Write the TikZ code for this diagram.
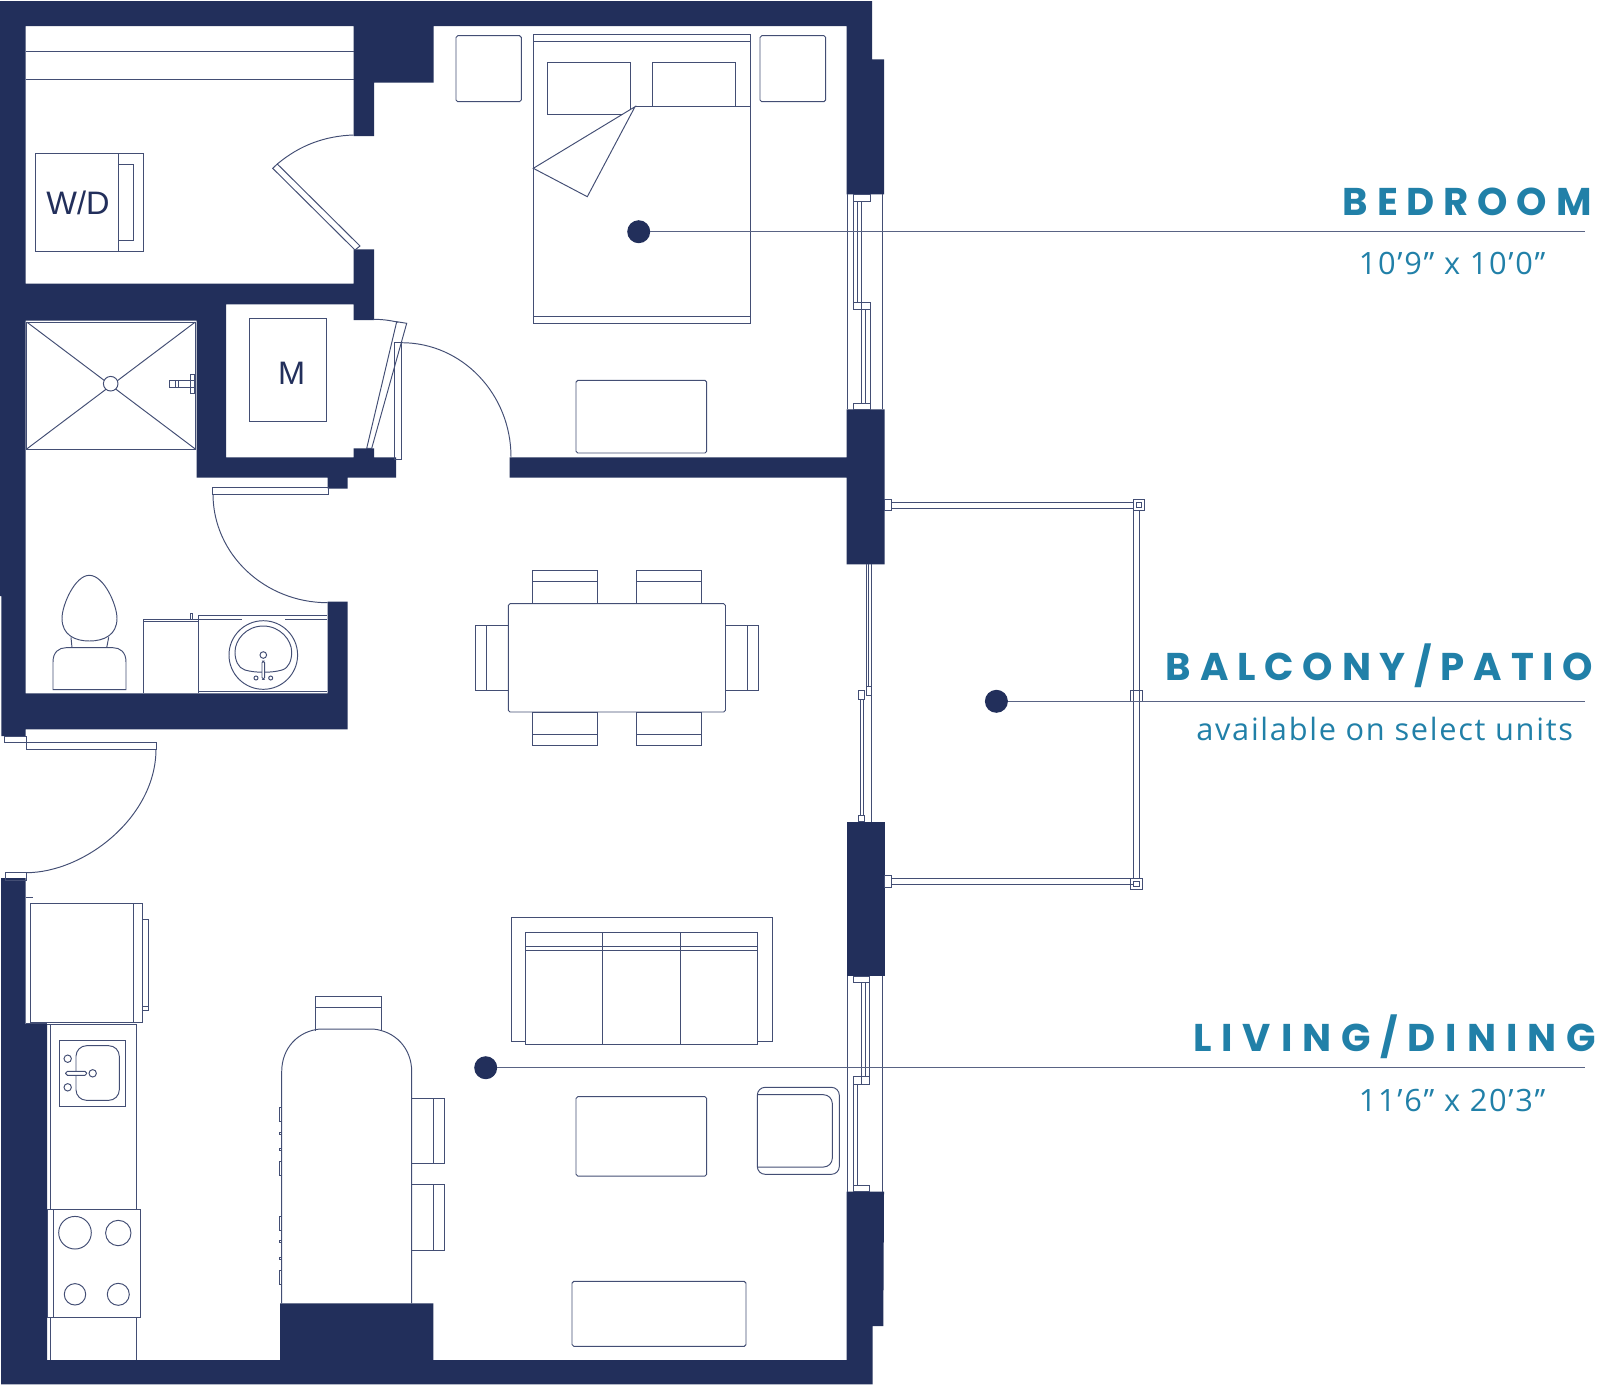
\documentclass[tikz,border=0pt]{standalone}
\usepackage{fontspec}
\usepackage{xcolor}
\setmainfont{Liberation Sans}
\newfontfamily\roomnamefont[LetterSpace=22.7]{Poppins}
\newfontfamily\widenamefont[LetterSpace=25.5]{Poppins}
\newfontfamily\roomsizefont[LetterSpace=5.5]{Open Sans}
\definecolor{navy}{HTML}{222F5B}
\definecolor{teal}{HTML}{2180A8}
\tikzset{
    wall/.style={fill=navy, draw=none},
    fine/.style={draw=navy!85, line width=0.55pt},
    soft/.style={fine, rounded corners=1pt},
    knob/.style={fine, fill=white},
    dot/.style={circle, fill=navy, minimum size=4.6mm, inner sep=0pt, outer sep=0pt},
    leader/.style={draw=navy!75, line width=0.7pt},
    roomname/.style={anchor=base west, inner sep=0pt, text=teal, font=\roomnamefont\bfseries\fontsize{22}{24}\selectfont},
    widename/.style={roomname, font=\widenamefont\bfseries\fontsize{22}{24}\selectfont},
    roomsize/.style={anchor=base west, inner sep=0pt, text=teal, font=\roomsizefont\fontsize{17.5}{20}\selectfont},
    applabel/.style={text=navy, inner sep=0pt, font=\fontsize{18.5}{20}\selectfont}
}
\begin{document}
\begin{tikzpicture}[x=0.2mm, y=-0.2mm]
    \useasboundingbox (0,0) rectangle (1600,1387);
    % Walls
    \fill[wall] (0,1) -- (872,1) -- (872,59.3) -- (884,59.3) -- (884,194.3) -- (846.5,194.3) -- (846.5,26) -- (433.5,26) -- (433.5,82.7) -- (374,82.7) -- (374,136) -- (353.5,136) -- (353.5,26) -- (25.5,26) -- (25.5,283.7) -- (353.5,283.7) -- (353.5,249.3) -- (374,249.3) -- (374,320) -- (353.5,320) -- (353.5,304.3) -- (226,304.3) -- (226,457.3) -- (353.5,457.3) -- (353.5,448.3) -- (374,448.3) -- (374,457.3) -- (396,457.3) -- (396,477.7) -- (347.7,477.7) -- (347.7,488.7) -- (327.7,488.7) -- (327.7,477.7) -- (196.7,477.7) -- (196.7,320.7) -- (25.5,320.7) -- (25.5,693.3) -- (327.7,693.3) -- (327.7,601.7) -- (347.7,601.7) -- (347.7,729.3) -- (25.5,729.3) -- (25.5,736) -- (1.3,736) -- (1.3,596) -- (0,596) -- cycle;
    \fill[wall] (1,878) -- (25.5,878) -- (25.5,1024) -- (47,1024) -- (47,1360) -- (280,1360) -- (280,1303.3) -- (433.3,1303.3) -- (433.3,1360) -- (846.5,1360) -- (846.5,1191.7) -- (884,1191.7) -- (883.3,1326) -- (872.7,1326) -- (872.7,1384.3) -- (1,1384.3) -- cycle;
    \fill[wall] (846.5,409.3) -- (884.5,409.3) -- (884.5,564.3) -- (846.5,564.3) -- (846.5,477.7) -- (509.7,477.7) -- (509.7,457.3) -- (846.5,457.3) -- cycle;
    \fill[wall] (846.5,821.7) rectangle (884.5,976);

    % Closet
    \draw[fine] (25.5,51.7) -- (353.5,51.7);
    \draw[fine] (25.5,79) -- (353.5,79);
    \draw[fine] (35,153.7) rectangle (143.7,251.3);
    \draw[fine] (118.3,153.7) -- (118.3,251.3);
    \draw[fine] (118.3,164.7) rectangle (133.3,240.7);
    \node[applabel] (washer) at (78,203) {W/D};
    \draw[fine] (272.7,168.3) -- (277.3,164) -- (360,246) -- (355,250) -- cycle;
    \draw[fine] (277.3,164) .. controls (300,145) and (325,136) .. (353.5,135);

    % Shower
    \draw[fine] (26.7,322) rectangle (195.3,449);
    \draw[fine] (26.7,322) -- (195.3,449);
    \draw[fine] (195.3,322) -- (26.7,449);
    \draw[knob] (110.7,383.7) circle (7.3);
    \draw[fine] (169.3,380.3) rectangle (194.3,387.3);
    \draw[fine] (175.3,380.3) -- (175.3,387.3);
    \draw[fine] (178.7,380.3) -- (178.7,387.3);
    \draw[fine] (190.7,374.3) rectangle (194.3,393.3);

    % Mechanical closet
    \draw[fine] (249.3,318.3) rectangle (326.7,421.7);
    \node[applabel] (mech) at (291.7,373) {M};
    \draw[fine] (396.7,321.7) -- (406.7,323.3) -- (371.7,448.3) -- (366.7,448.3) -- cycle;
    \draw[fine] (373.3,319.3) .. controls (382,319.3) and (390,320.3) .. (398.3,322.3);

    % Bedroom door
    \draw[fine] (394.7,342.7) rectangle (401.7,459);
    \draw[fine] (401.7,342.7) .. controls (462,342.7) and (511,393.9) .. (511,457);

    % Bath door
    \draw[fine] (212,487.3) rectangle (328.3,494);
    \draw[fine] (213,494) .. controls (213,554) and (264.4,602.7) .. (327.7,602.7);

    % Entry door
    \draw[fine] (4.7,736) rectangle (26,742.7);
    \draw[fine] (26,742.3) rectangle (156.7,749);
    \draw[fine] (5,872.3) rectangle (26,880);
    \draw[fine] (156,749) .. controls (156,817.3) and (84.2,872.7) .. (26,872.7);

    % Toilet
    \draw[fine] (53,689.7) -- (53,662) .. controls (53,652) and (59,647.7) .. (66,647.7) -- (113,647.7) .. controls (120,647.7) and (126,652) .. (126,662) -- (126,689.7) -- cycle;
    \draw[fine] (71,637.3) -- (72,647.7);
    \draw[fine] (108.7,637.3) -- (106.7,647.7);
    \draw[fine] (89.3,575.3) .. controls (75,575.3) and (62,605) .. (62,618.3) .. controls (62,635) and (75,641) .. (89.3,641) .. controls (104,641) and (117,635) .. (117,618.3) .. controls (117,605) and (104,575.3) .. (89.3,575.3);

    % Vanity
    \draw[fine] (143.7,693.3) -- (143.7,619.3) -- (198,619.3);
    \draw[fine] (143.7,621.3) -- (198,621.3);
    \draw[fine] (190,613.3) rectangle (192.3,619.3);
    \draw[fine] (198,693.3) -- (198,615) -- (327.3,615);
    \draw[fine] (198,619) -- (241.7,619);
    \draw[fine] (285,619) -- (327.3,619);
    \draw[fine] (198,691.7) -- (327.3,691.7);
    \draw[fine] (263.3,655) circle (34.3);
    \draw[fine] (263.3,626) .. controls (246,626) and (235,640) .. (235,652) .. controls (235,660) and (238,668) .. (245,670) .. controls (255,673) and (272,673) .. (282,670) .. controls (289,668) and (291.7,660) .. (291.7,652) .. controls (291.7,640) and (280,626) .. (263.3,626);
    \draw[fine] (263.3,655) circle (3.3);
    \draw[knob, rounded corners=1pt] (262,661) rectangle (264.7,679.3);
    \draw[fine] (256,678) circle (2);
    \draw[fine] (270.7,678) circle (2);

    % Kitchen
    \draw[fine] (30.7,903) rectangle (133.3,1022.7);
    \draw[fine] (133.3,903) rectangle (142.7,1022.7);
    \draw[fine] (142.7,919.3) rectangle (148.3,1010);
    \draw[fine] (142.7,1006.7) -- (148.3,1006.7);
    \draw[fine] (25.7,897.7) -- (32.7,897.7);
    \draw[fine] (25.5,1023.5) -- (47,1023.5);
    \draw[fine] (47,1024.7) -- (136.7,1024.7) -- (136.7,1360);
    \draw[fine] (50,1024.7) -- (50,1360);
    \draw[fine] (59.7,1040.7) rectangle (125,1106);
    \draw[fine, rounded corners=6pt] (76,1045.7) rectangle (119.3,1100.3);
    \draw[fine] (67.7,1058.7) circle (3.7);
    \draw[fine] (67.7,1087.3) circle (3.7);
    \draw[knob] (92.7,1073.3) circle (3.7);
    \draw[knob, rounded corners=1pt] (65.7,1071.3) rectangle (86.7,1075.3);
    \draw[knob] (47,1209.7) rectangle (140.3,1317.3);
    \draw[fine] (53.3,1209.7) -- (53.3,1317.3);
    \draw[fine] (75,1232.7) circle (16.3);
    \draw[fine] (118.3,1233) circle (12.7);
    \draw[fine] (75,1294.3) circle (10.7);
    \draw[fine] (118.3,1294.3) circle (11);

    % Island
    \draw[fine] (315,1031) -- (315,996.7) -- (381,996.7) -- (381,1031);
    \draw[fine] (315,1007.7) -- (381,1007.7);
    \draw[fine] (281.7,1303.3) -- (281.7,1071.7) .. controls (281.7,1048) and (298,1031) .. (320,1029) -- (373,1029) .. controls (395,1031) and (411.7,1048) .. (411.7,1071.7) -- (411.7,1303.3);
    \draw[fine] (411.7,1098.3) rectangle (444.3,1163.3);
    \draw[fine] (433.3,1098.3) -- (433.3,1163.3);
    \draw[fine] (411.7,1184.7) rectangle (444.3,1250);
    \draw[fine] (433.3,1184.7) -- (433.3,1250);
    \draw[fine] (279.3,1107.3) rectangle (281.7,1121.3);
    \draw[fine] (279.3,1132.3) rectangle (281.7,1134.3);
    \draw[fine] (279.3,1148.3) rectangle (281.7,1150.3);
    \draw[fine] (279.3,1161.7) rectangle (281.7,1175.7);
    \draw[fine] (279.3,1216) rectangle (281.7,1230);
    \draw[fine] (279.3,1240.7) rectangle (281.7,1242.7);
    \draw[fine] (279.3,1257.3) rectangle (281.7,1259.3);
    \draw[fine] (279.3,1270) rectangle (281.7,1284.3);

    % Bedroom furniture
    \draw[soft] (456,35.7) rectangle (521.3,101.7);
    \draw[soft] (760,35.7) rectangle (825.7,101.7);
    \draw[fine] (533,34.3) rectangle (750.3,323.7);
    \draw[fine] (533,41.3) -- (750.3,41.3);
    \draw[fine] (533,316.3) -- (750.3,316.3);
    \draw[fine] (623,114) -- (547,114) -- (547,62.7) -- (630.7,62.7) -- (630.7,109);
    \draw[fine] (652.3,106.7) -- (652.3,62.7) -- (735.7,62.7) -- (735.7,106.7);
    \draw[fine] (635,106.7) -- (750.3,106.7);
    \draw[fine] (635,106.7) -- (533.3,168.3) -- (587.3,196.7) -- cycle;
    \draw[soft] (576,380.3) rectangle (706.7,453);

    % Dining
    \draw[fine] (532.6,570.3) rectangle (597.8,603.7);
    \draw[fine] (532.6,581.7) -- (597.8,581.7);
    \draw[fine] (636,570.3) rectangle (701.6,603.7);
    \draw[fine] (636,581.7) -- (701.6,581.7);
    \draw[fine] (532.6,712) rectangle (597.8,745);
    \draw[fine] (532.6,734) -- (597.8,734);
    \draw[fine] (636,712) rectangle (701.6,745);
    \draw[fine] (636,734) -- (701.6,734);
    \draw[fine] (475.7,625) rectangle (508.3,690.3);
    \draw[fine] (486.3,625) -- (486.3,690.3);
    \draw[fine] (725.5,625) rectangle (758.5,690.3);
    \draw[fine] (747.5,625) -- (747.5,690.3);
    \draw[soft] (508.3,603.7) rectangle (725.5,712);

    % Living
    \draw[fine] (525.7,1041) -- (511,1041) -- (511,917.7) -- (772.3,917.7) -- (772.3,1041) -- (757.3,1041);
    \draw[fine] (525.7,932) rectangle (757.3,1044);
    \draw[fine] (525.7,946.7) -- (757.3,946.7);
    \draw[fine] (525.7,950.3) -- (757.3,950.3);
    \draw[fine] (602.7,932) -- (602.7,1044);
    \draw[fine] (680,932) -- (680,1044);
    \draw[soft] (576,1096.7) rectangle (706.7,1176);
    \draw[fine, rounded corners=4.5pt] (757.3,1087.3) rectangle (839.3,1174.3);
    \draw[fine, rounded corners=5pt] (757.3,1094.7) -- (832.3,1094.7) -- (832.3,1167) -- (757.3,1167);
    \draw[soft] (572,1281.3) rectangle (746,1346.3);

    % Bedroom window
    \draw[fine] (847.7,194.3) -- (847.7,409.3);
    \draw[fine] (882.7,194.3) -- (882.7,409.3);
    \draw[fine] (853.3,194.3) rectangle (870,201);
    \draw[fine] (853.3,201) -- (853.3,302);
    \draw[fine] (857.3,201) -- (857.3,302);
    \draw[fine] (861.7,201) -- (861.7,302);
    \draw[fine] (853.3,302) rectangle (870,309.3);
    \draw[fine] (861.7,302) -- (861.7,403.3);
    \draw[fine] (865.7,309.3) -- (865.7,403.3);
    \draw[fine] (870,309.3) -- (870,403.3);
    \draw[fine] (853.3,403.3) rectangle (870,409.3);

    % Living window
    \draw[fine] (847.7,976) -- (847.7,1191.7);
    \draw[fine] (882.7,976) -- (882.7,1191.7);
    \draw[fine] (853.3,976) rectangle (869.3,982.3);
    \draw[fine] (861.3,982.3) -- (861.3,1084);
    \draw[fine] (865.7,982.3) -- (865.7,1076.7);
    \draw[fine] (869.3,982.3) -- (869.3,1084);
    \draw[fine] (853.3,1076.7) rectangle (869.3,1084);
    \draw[fine] (861.3,1076.7) -- (861.3,1084);
    \draw[fine] (853.3,1084) -- (853.3,1185);
    \draw[fine] (857.3,1084) -- (857.3,1185);
    \draw[fine] (853.3,1185) rectangle (869.3,1191.7);

    % Balcony door
    \draw[fine] (866,564.3) -- (866,686);
    \draw[fine] (868.5,564.3) -- (868.5,686);
    \draw[fine] (871.5,564.3) -- (871.5,821.7);
    \draw[fine] (866,686) rectangle (871.5,695);
    \draw[fine] (858.6,690.7) rectangle (864.6,699.3);
    \draw[fine] (860,699.3) -- (860,815);
    \draw[fine] (863,699.3) -- (863,815);
    \draw[fine] (858,815) -- (858,821.7) -- (864,821.7) -- (864,815) -- cycle;

    % Balcony railing
    \draw[fine] (884,499.3) rectangle (891.2,510.7);
    \draw[fine] (884,875.7) rectangle (891.2,887);
    \draw[fine] (891.2,502) -- (1133.2,502);
    \draw[fine] (891.2,508.3) -- (1133.2,508.3);
    \draw[fine] (891.2,878.3) -- (1133.2,878.3);
    \draw[fine] (891.2,884.3) -- (1133.2,884.3);
    \draw[fine] (1133.2,508.3) -- (1133.2,878.3);
    \draw[fine] (1139.6,510.7) -- (1139.6,878.3);
    \draw[fine] (1133,499.3) rectangle (1144.7,510.7);
    \draw[fine] (1136,502) rectangle (1141,507);
    \draw[fine] (1130.4,878.3) rectangle (1142,889.3);
    \draw[fine] (1133.5,881) rectangle (1139,886);
    \draw[fine] (1130.4,690) rectangle (1142,701.7);

    % Room labels
    \node[dot] (bedroomdot) at (638.7,231.7) {};
    \coordinate (bedroomend) at (1584.7,231.7);
    \draw[leader] (bedroomdot) -- (bedroomend);
    \node[roomname] (bedroomname) at (1342.5,215) {BEDROOM};
    \node[roomsize] (bedroomsize) at (1358.5,274) {10’9” x 10’0”};

    \node[dot] (balconydot) at (996.4,701.3) {};
    \coordinate (balconyend) at (1584.7,701.3);
    \draw[leader] (balconydot) -- (balconyend);
    \node[roomname] (balconyname) at (1165.5,680.7) {BALCONY/PATIO};
    \node[roomsize] (balconysize) at (1196,740) {available on select units};

    \node[dot] (livingdot) at (485.7,1067.7) {};
    \coordinate (livingend) at (1584.7,1067.7);
    \draw[leader] (livingdot) -- (livingend);
    \node[widename] (livingname) at (1193,1051.7) {LIVING/DINING};
    \node[roomsize] (livingsize) at (1358.5,1111) {11’6” x 20’3”};
\end{tikzpicture}
\end{document}
